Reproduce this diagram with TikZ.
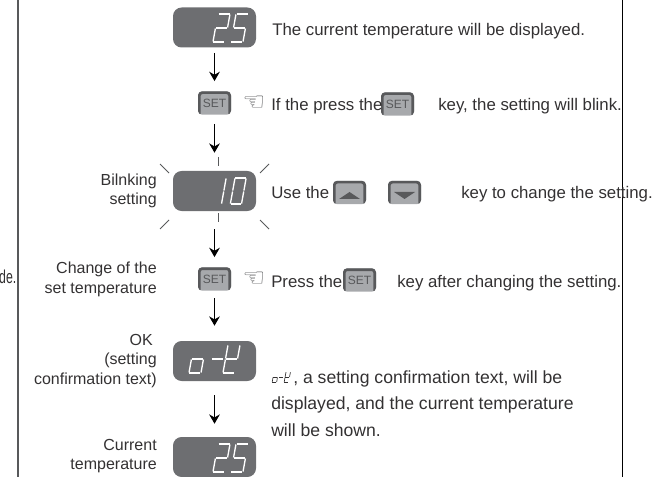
\documentclass[tikz,border=0pt]{standalone}
\usepackage{fontspec}
\setmainfont{Liberation Sans}
\newfontfamily\handfont{DejaVu Sans}
\usetikzlibrary{arrows.meta}
\definecolor{panelgray}{HTML}{6D6E71}
\definecolor{keygray}{HTML}{A7A9AC}
\definecolor{keydark}{HTML}{58595B}
\definecolor{inkgray}{HTML}{333132}
\tikzset{
  display/.style={fill=panelgray,rounded corners=6.5pt,minimum width=62.25pt,minimum height=30pt},
  keybox/.style={fill=keygray,rounded corners=3pt,minimum width=24.75pt,minimum height=17.5pt,
    font=\fontsize{9}{9}\selectfont,text=keydark,
    path picture={\draw[keydark,line width=4pt] (path picture bounding box.south west) -- (path picture bounding box.north west) -- (path picture bounding box.north east) -- (path picture bounding box.south east);}},
  body/.style={anchor=base west,font=\fontsize{12.6}{12.6}\selectfont,text=inkgray},
  note/.style={anchor=base west,font=\fontsize{13.2}{13.2}\selectfont,text=inkgray},
  side/.style={anchor=east,align=right,font=\fontsize{12}{14.6}\selectfont,text=inkgray},
  hand/.style={font=\handfont\fontsize{19}{19}\selectfont,text=keydark},
  flow/.style={-{Stealth[length=7pt,width=8pt]},line width=0.9pt,black},
  ray/.style={line width=0.6pt,keydark},
  digit/.style={white,line width=1pt},
  inlinedigit/.style={inkgray,line width=0.5pt},
  seg a/.style={insert path={(0.5,0) -- (11.5,0)}},
  seg b/.style={insert path={(12,0.5) -- (12,13.5)}},
  seg c/.style={insert path={(12,14.5) -- (12,27.5)}},
  seg d/.style={insert path={(0.5,28) -- (11.5,28)}},
  seg e/.style={insert path={(0,14.5) -- (0,27.5)}},
  seg f/.style={insert path={(0,0.5) -- (0,13.5)}},
  seg g/.style={insert path={(0.5,14) -- (11.5,14)}}
}
% one slanted digit: top left corner, segments, style, size
\newcommand{\segdigit}[4]{
  \begin{scope}[shift={(#1)},xslant=0.18,x=#4*0.75pt,y=-#4*0.75pt]
    \foreach \s in {#2} \draw[#3,seg \s];
  \end{scope}
}
\begin{document}
\begin{tikzpicture}[x=0.75pt,y=-0.75pt,inner sep=0pt]
\useasboundingbox (0,0) rectangle (652,477);
% frame lines
\draw (18,0) coordinate(frame0) (18,477) coordinate(frame1);
\draw (622,0) coordinate(frame2) (622,477) coordinate(frame3);
\draw[line width=1pt,keydark] (frame0) -- (frame1);
\draw[line width=0.7pt,black] (frame2) -- (frame3);
% displays and keys
\draw (214.5,27.5) node[display](disp0) {};
\draw (214.5,191) node[display](disp1) {};
\draw (214.5,361) node[display](disp2) {};
\draw (214.5,457) node[display](disp3) {};
\draw (214.5,103) node[keybox](key0) {SET};
\draw (214.5,279) node[keybox](key1) {SET};
\draw (397.5,104) node[keybox](key2) {SET};
\draw (359.5,280) node[keybox](key3) {SET};
\draw (349.5,192.5) node[keybox](key4) {};
\draw (404.5,192.5) node[keybox](key5) {};
\fill[keydark] (339,199) -- (349.5,192) -- (360,199) -- cycle;
\fill[keydark] (394,192) -- (404.5,199) -- (415,192) -- cycle;
% digits
\segdigit{218,14}{a,b,g,e,d}{digit}{1}
\segdigit{236,14}{a,f,g,c,d}{digit}{1}
\segdigit{215,178}{b,c}{digit}{0.93}
\segdigit{235,178}{a,b,c,d,e,f}{digit}{0.93}
\segdigit{194,345}{c,d,e,g}{digit}{1}
\segdigit{214,345}{g}{digit}{1}
\segdigit{228,345}{b,d,e,f,g}{digit}{1}
\segdigit{218,444}{a,b,g,e,d}{digit}{1}
\segdigit{236,444}{a,f,g,c,d}{digit}{1}
\segdigit{274,372}{c,d,e,g}{inlinedigit}{0.37}
\segdigit{280,372}{g}{inlinedigit}{0.37}
\segdigit{286,372}{b,d,e,f,g}{inlinedigit}{0.37}
% flow
\draw[flow,shorten <=3.75pt,shorten >=7.5pt] (disp0) -- (key0);
\draw[flow,shorten <=6.75pt,shorten >=13.5pt] (key0) -- (disp1);
\draw[flow,shorten <=13.5pt,shorten >=7.5pt] (disp1) -- (key1);
\draw[flow,shorten <=5.5pt,shorten >=11.25pt] (key1) -- (disp2);
\draw[flow,shorten <=10.5pt,shorten >=9.75pt] (disp2) -- (disp3);
% blink rays
\foreach \xa/\ya/\xb/\yb in {160/164/169/173,269/164/260/173,169/220/160/229,260/220/269/229,218/157/218/166,218/213/218/222}
  \draw[ray] (\xa,\ya) -- (\xb,\yb);
% text
\draw (272,36) node[body](text0) {The current temperature will be displayed.};
\draw (254,103) node[hand](hand0) {☜};
\draw (271,111) node[body](text1) {If the press the};
\draw (438,111) node[body](text2) {key, the setting will blink.};
\draw (271,199) node[body](text3) {Use the};
\draw (461,199) node[body](text4) {key to change the setting.};
\draw (254,279) node[hand](hand1) {☜};
\draw (271,287) node[body](text5) {Press the};
\draw (397,287) node[body](text6) {key after changing the setting.};
\draw (293,383) node[note](text7) {, a setting confirmation text, will be};
\draw (271,409) node[note](text8) {displayed, and the current temperature};
\draw (271,436) node[note](text9) {will be shown.};
\draw (157,191) node[side](label0) {Bilnking\\setting};
\draw (157,279.5) node[side](label1) {Change of the\\set temperature};
\draw (157,361) node[side](label2) {OK\hspace*{3pt}\\(setting\hspace*{3pt}\\confirmation text)};
\draw (157,456) node[side](label3) {Current\\temperature};
\draw (16.5,277) node[side,font=\fontsize{14}{14}\selectfont,xscale=0.66,transform shape](cut0) {de.};
\end{tikzpicture}
\end{document}
